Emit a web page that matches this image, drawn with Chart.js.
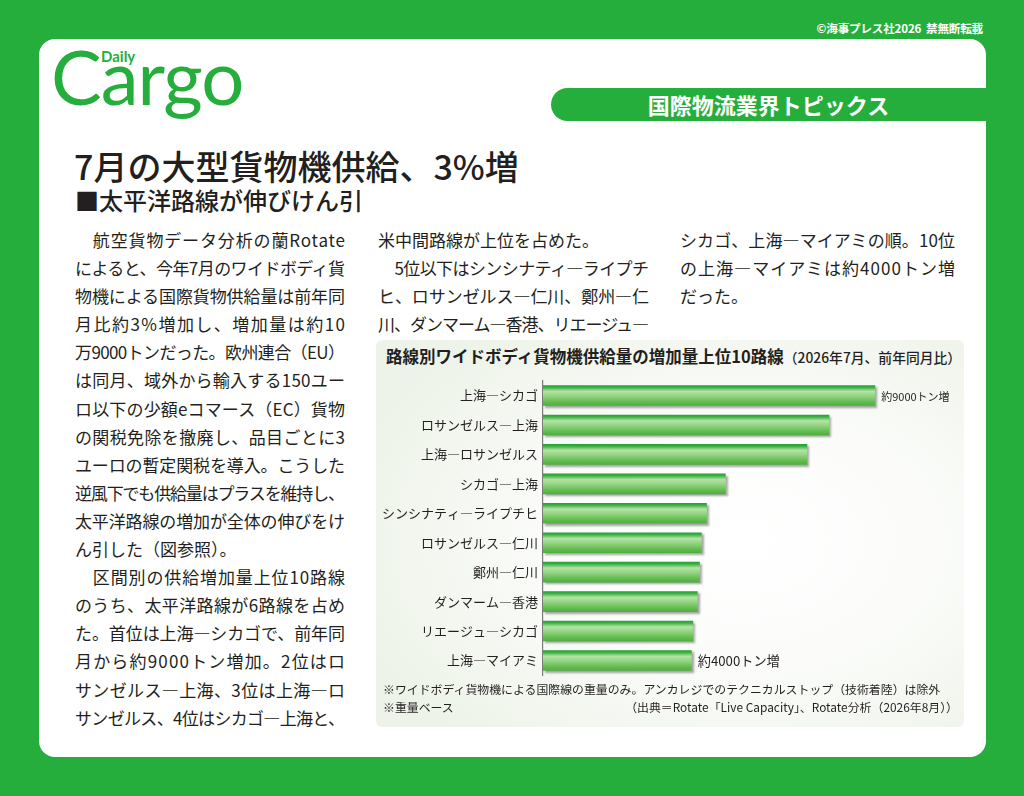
<!DOCTYPE html>
<html lang="ja">
<head>
<meta charset="utf-8">
<title>7月の大型貨物機供給、3%増</title>
<script src="https://cdn.jsdelivr.net/npm/chart.js@4.4.0/dist/chart.umd.min.js"></script>
<style>
  html, body { margin: 0; padding: 0; }
  body {
    width: 1024px; height: 796px; position: relative; overflow: hidden;
    background: #26ae3c;
    font-family: "Noto Sans CJK JP", "Noto Sans", sans-serif; color: #231f20;
  }
  .abs { position: absolute; white-space: nowrap; }
  .copy { right: 41px; top: 21px; font-size: 11.6px; line-height: 14px; color: #fff; font-weight: 700; letter-spacing: -0.2px; }
  .sheet { left: 39px; top: 39px; width: 947px; height: 718px; background: #fff; border-radius: 16px; position: absolute; }
  .logo { left: 51px; top: 38px; font-family: Lato, sans-serif; font-size: 76px; line-height: 76px; color: #26ae3c; letter-spacing: -1px; }
  .daily { left: 101px; top: 49px; font-family: Lato, sans-serif; font-weight: 700; font-size: 15px; line-height: 15px; color: #26ae3c; }
  .banner {
    left: 551px; top: 88px; width: 435px; height: 33px; background: #26ae3c;
    border-radius: 17px 0 0 17px; color: #fff; text-align: center;
    font-size: 22px; line-height: 33px; font-weight: 700;
  }
  .head { left: 74px; top: 149px; font-size: 34px; line-height: 34px; font-weight: 500; }
  .sub { left: 75px; top: 188px; font-size: 24px; line-height: 24px; font-weight: 500; }
  .col { position: absolute; top: 226px; font-size: 17px; line-height: 28.1px; }
  .col div { white-space: nowrap; height: 28.1px; }
  .col span { display: inline-block; }
  .panel {
    left: 376px; top: 340px; width: 588px; height: 387px; border-radius: 6px;
    background: radial-gradient(ellipse 70% 70% at 62% 52%, #ffffff 0%, #fbfcfa 45%, #edf3e8 100%);
  }
  .ctitle { left: 386px; top: 346px; font-size: 16.5px; line-height: 20px; font-weight: 700; }
  .ctitle small { font-size: 13.8px; font-weight: 500; }
  .note { font-size: 11.9px; line-height: 18px; }
  .chart-box { position: absolute; left: 376px; top: 368px; width: 588px; height: 320px; }
</style>
</head>
<body>
<div class="abs copy">©海事プレス社2026&nbsp;&nbsp;禁無断転載</div>
<div class="sheet"></div>
<div class="abs logo">Cargo</div>
<div class="abs daily">Daily</div>
<div class="abs banner">国際物流業界トピックス</div>
<div class="abs head">7月の大型貨物機供給、3%増</div>
<div class="abs sub">■太平洋路線が伸びけん引</div>

<div class="col" style="left:75px;width:270px">
  <div class="j"><span>　航空貨物データ分析の蘭Rotate</span></div>
  <div class="j"><span>によると、今年7月のワイドボディ貨</span></div>
  <div class="j"><span>物機による国際貨物供給量は前年同</span></div>
  <div class="j"><span>月比約3%増加し、増加量は約10</span></div>
  <div class="j"><span>万9000トンだった。欧州連合（EU）</span></div>
  <div class="j"><span>は同月、域外から輸入する150ユー</span></div>
  <div class="j"><span>ロ以下の少額eコマース（EC）貨物</span></div>
  <div class="j"><span>の関税免除を撤廃し、品目ごとに3</span></div>
  <div class="j"><span>ユーロの暫定関税を導入。こうした</span></div>
  <div class="j"><span>逆風下でも供給量はプラスを維持し、</span></div>
  <div class="j"><span>太平洋路線の増加が全体の伸びをけ</span></div>
  <div><span>ん引した（図参照）。</span></div>
  <div class="j"><span>　区間別の供給増加量上位10路線</span></div>
  <div class="j"><span>のうち、太平洋路線が6路線を占め</span></div>
  <div class="j"><span>た。首位は上海―シカゴで、前年同</span></div>
  <div class="j"><span>月から約9000トン増加。2位はロ</span></div>
  <div class="j"><span>サンゼルス―上海、3位は上海―ロ</span></div>
  <div class="j"><span>サンゼルス、4位はシカゴ―上海と、</span></div>
</div>
<div class="col" style="left:378px;width:271px">
  <div><span>米中間路線が上位を占めた。</span></div>
  <div class="j"><span>　5位以下はシンシナティ―ライプチ</span></div>
  <div class="j"><span>ヒ、ロサンゼルス―仁川、鄭州―仁</span></div>
  <div class="j"><span>川、ダンマーム―香港、リエージュ―</span></div>
</div>
<div class="col" style="left:680px;width:275px">
  <div class="j"><span>シカゴ、上海―マイアミの順。10位</span></div>
  <div class="j"><span>の上海―マイアミは約4000トン増</span></div>
  <div><span>だった。</span></div>
</div>

<div class="abs panel"></div>
<div class="abs ctitle">路線別ワイドボディ貨物機供給量の増加量上位10路線<small>（2026年7月、前年同月比）</small></div>
<div class="chart-box"><canvas id="route-chart"></canvas></div>
<div class="abs note" style="left:383px;top:680px">※ワイドボディ貨物機による国際線の重量のみ。アンカレジでのテクニカルストップ（技術着陸）は除外</div>
<div class="abs note" style="left:383px;top:698px">※重量ベース</div>
<div class="abs note" style="right:66px;top:698px">（出典＝Rotate「Live Capacity」、Rotate分析（2026年8月））</div>

<script>
  "use strict";

  var routes = ['上海―シカゴ', 'ロサンゼルス―上海', '上海―ロサンゼルス', 'シカゴ―上海', 'シンシナティ―ライプチヒ',
    'ロサンゼルス―仁川', '鄭州―仁川', 'ダンマーム―香港', 'リエージュ―シカゴ', '上海―マイアミ'];
  var increaseTons = [9000, 7760, 7160, 4950, 4440, 4300, 4250, 4190, 4070, 4030];
  var barNotes = ['約9000トン増', '', '', '', '', '', '', '', '', '約4000トン増'];

  // justify full lines of the article to the column width
  function fitLines() {
    document.querySelectorAll('.col .j span').forEach(function (span) {
      span.style.letterSpacing = '0px';
      var w = span.parentNode.parentNode.clientWidth;
      var n = Array.from(span.textContent).length;
      var natural = span.getBoundingClientRect().width;
      span.style.letterSpacing = ((w - natural) / (n - 1)) + 'px';
    });
  }
  if (document.fonts && document.fonts.ready) {
    document.fonts.ready.then(fitLines);
  }
  fitLines();

  var BAR_H = 21;
  function barFill(context) {
    var chart = context.chart;
    var yScale = chart.scales && chart.scales.y;
    if (!chart.chartArea || !yScale || context.dataIndex === undefined) {
      return '#6cc45a';
    }
    var c = yScale.getPixelForValue(context.dataIndex);
    var g = chart.ctx.createLinearGradient(0, c - BAR_H / 2, 0, c + BAR_H / 2);
    g.addColorStop(0, '#1f9e30');
    g.addColorStop(0.12, '#3db243');
    g.addColorStop(0.3, '#b6e2a6');
    g.addColorStop(0.5, '#97d686');
    g.addColorStop(0.8, '#63bd50');
    g.addColorStop(1, '#4dac3f');
    return g;
  }

  var barShadow = {
    id: 'barShadow',
    beforeDatasetsDraw: function (chart) {
      var ctx = chart.ctx;
      ctx.save();
      ctx.shadowColor = 'rgba(60,60,60,0.45)';
      ctx.shadowOffsetX = 2;
      ctx.shadowOffsetY = 2;
      ctx.shadowBlur = 2;
    },
    afterDatasetsDraw: function (chart) {
      chart.ctx.restore();
    }
  };

  var barLabels = {
    id: 'barLabels',
    afterDraw: function (chart) {
      var ctx = chart.ctx;
      var meta = chart.getDatasetMeta(0);
      ctx.save();
      ctx.fillStyle = '#231f20';
      ctx.textBaseline = 'middle';
      ctx.textAlign = 'left';
      meta.data.forEach(function (bar, i) {
        if (!barNotes[i]) return;
        var size = i === barNotes.length - 1 ? 13.2 : 11;
        ctx.font = size + 'px "Noto Sans CJK JP", sans-serif';
        ctx.fillText(barNotes[i], bar.x + 6, bar.y + 1);
      });
      ctx.restore();
    }
  };

  var ctxRoute = document.getElementById('route-chart').getContext('2d');
  var routeChart = new Chart(ctxRoute, {
    type: 'bar',
    data: {
      labels: routes,
      datasets: [{
        data: increaseTons,
        backgroundColor: barFill,
        borderWidth: 0,
        categoryPercentage: 1,
        barPercentage: 0.7
      }]
    },
    options: {
      indexAxis: 'y',
      responsive: true,
      maintainAspectRatio: false,
      animation: false,
      layout: {
        padding: { top: 8, bottom: 10, right: 15, left: 0 }
      },
      scales: {
        x: {
          display: false,
          min: 0,
          max: 11000
        },
        y: {
          afterFit: function (scale) {
            scale.width = 167;
          },
          grid: { display: false, drawTicks: false },
          border: { display: true, color: '#7a7a7a', width: 1.2 },
          ticks: {
            padding: 5,
            color: '#231f20',
            font: {
              family: '"Noto Sans CJK JP", sans-serif',
              size: 13
            }
          }
        }
      },
      plugins: {
        legend: { display: false },
        tooltip: { enabled: false }
      }
    },
    plugins: [barShadow, barLabels]
  });
</script>
</body>
</html>
